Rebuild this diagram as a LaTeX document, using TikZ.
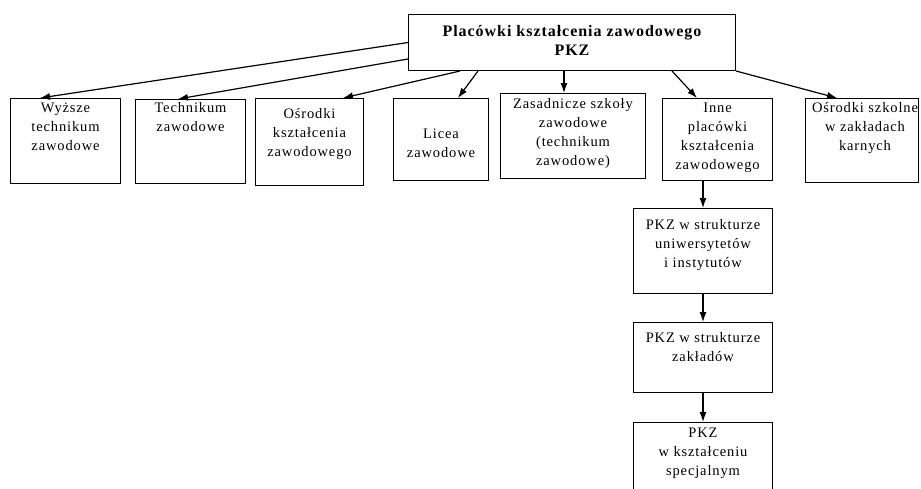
\documentclass[tikz,border=0pt]{standalone}
\usepackage{fontspec}
\setmainfont{Liberation Serif}[LetterSpace=6]
\usetikzlibrary{arrows.meta,positioning}

\begin{document}
\begin{tikzpicture}[x=1pt,y=-1pt,
  box/.style={draw,line width=1pt,anchor=north west,inner sep=0pt},
  lbl/.style={anchor=base,align=center,inner sep=0pt,font=\fontsize{14.5}{19}\selectfont},
  arr/.style={line width=1.2pt,-{Latex[length=10pt,width=7pt]}}]
\clip (0,0) rectangle (921,488);

% Prostokaty
\node[box,minimum width=327,minimum height=56] (pkz) at (408,14) {};
\node[box,minimum width=110,minimum height=85] (wyz) at (10,98) {};
\node[box,minimum width=110,minimum height=84] (tech) at (135,99) {};
\node[box,minimum width=108,minimum height=87] (osr) at (255,98) {};
\node[box,minimum width=95,minimum height=82] (lic) at (393,98) {};
\node[box,minimum width=145,minimum height=85] (zas) at (500,93) {};
\node[box,minimum width=110,minimum height=82] (inne) at (662,98) {};
\node[box,minimum width=113,minimum height=84] (osk) at (805,98) {};
\node[box,minimum width=139,minimum height=85] (uni) at (633,208) {};
\node[box,minimum width=139,minimum height=70] (zak) at (633,322) {};
\node[box,minimum width=139,minimum height=80] (spec) at (633,422) {};

% Teksty (base = ostatnia linia)
\node[lbl,font=\fontsize{16}{19}\bfseries\selectfont] (pkzt) at ([yshift=-41pt]pkz.north) {Placówki kształcenia zawodowego\\PKZ};
\node[lbl] (wyzt) at ([yshift=-52pt]wyz.north) {Wyższe\\technikum\\zawodowe};
\node[lbl] (techt) at ([yshift=-32pt]tech.north) {Technikum\\zawodowe};
\node[lbl] (osrt) at ([yshift=-58pt]osr.north) {Ośrodki\\kształcenia\\zawodowego};
\node[lbl] (lict) at ([yshift=-59pt]lic.north) {Licea\\zawodowe};
\node[lbl] (zast) at ([yshift=-72pt]zas.north) {Zasadnicze szkoły\\zawodowe\\(technikum\\zawodowe)};
\node[lbl] (innet) at ([yshift=-71pt]inne.north) {Inne\\placówki\\kształcenia\\zawodowego};
\node[lbl] (oskt) at ([yshift=-52pt,xshift=3pt]osk.north) {Ośrodki szkolne\\w zakładach\\karnych};
\node[lbl] (unit) at ([yshift=-59pt]uni.north) {PKZ w strukturze\\uniwersytetów\\i instytutów};
\node[lbl] (zakt) at ([yshift=-39pt]zak.north) {PKZ w strukturze\\zakładów};
\node[lbl] (spect) at ([yshift=-53pt]spec.north) {PKZ\\w kształceniu\\specjalnym};

% Strzalki
\draw[arr] (pkz.west) -- ([xshift=30pt]wyz.north west);
\draw[arr] ([yshift=12pt]pkz.south west) -- ([xshift=43pt]tech.north west);
\draw[arr] ([xshift=52pt]pkz.south west) -- ([xshift=88pt]osr.north west);
\draw[arr] ([xshift=70pt]pkz.south west) -- ([xshift=65pt]lic.north west);
\draw[arr] ([xshift=-8pt]pkz.south) -- ([xshift=-9pt]zas.north);
\draw[arr] ([xshift=264pt]pkz.south west) -- ([xshift=35pt]inne.north west);
\draw[arr] (pkz.south east) -- ([xshift=32pt]osk.north west);
\draw[arr] (inne.south -| uni.north) -- (uni.north);
\draw[arr] (uni.south) -- (zak.north);
\draw[arr] (zak.south) -- (spec.north);
\end{tikzpicture}
\end{document}
